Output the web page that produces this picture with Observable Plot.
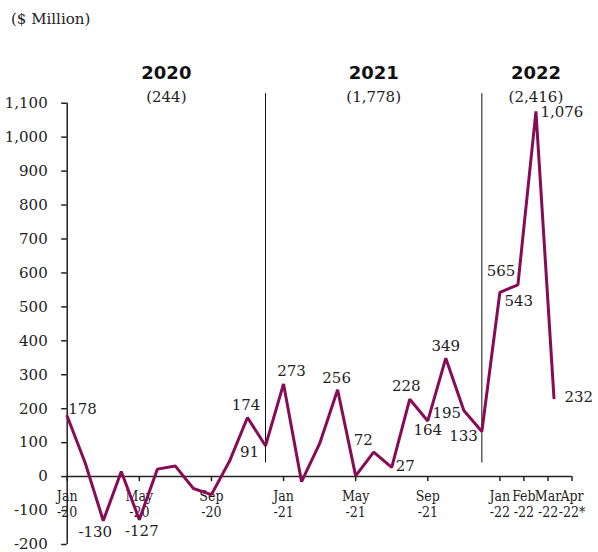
<!DOCTYPE html>
<html><head><meta charset="utf-8">
<script src="https://cdn.jsdelivr.net/npm/d3@7"></script>
<script src="https://cdn.jsdelivr.net/npm/@observablehq/plot@0.6"></script>
<style>
body{margin:0;background:#fff;}
#unit{height:30px;box-sizing:border-box;padding:9px 0 0 11px;font:15px "DejaVu Serif";line-height:20px;color:#222;}
#chart svg{display:block;}
</style></head><body>
<div id="unit">($ Million)</div>
<div id="chart"></div>
<script>
// Monthly values, Jan-20 .. Apr-22 ($ Million)
const months = ["Jan-20","Feb-20","Mar-20","Apr-20","May-20","Jun-20","Jul-20","Aug-20","Sep-20","Oct-20","Nov-20","Dec-20",
                "Jan-21","Feb-21","Mar-21","Apr-21","May-21","Jun-21","Jul-21","Aug-21","Sep-21","Oct-21","Nov-21","Dec-21",
                "Jan-22","Feb-22","Mar-22","Apr-22"];
const values = [178, 40, -130, 15, -127, 22, 31, -35, -53, 45, 174, 91,
                273, -15, 97, 256, 2, 72, 27, 228, 164, 349, 195, 133,
                543, 565, 1076, 232];
// which months carry a value label
const labeledMonths = ["Jan-20","Mar-20","May-20","Nov-20","Dec-20","Jan-21","Apr-21","Jun-21","Jul-21","Aug-21",
                       "Sep-21","Oct-21","Nov-21","Dec-21","Jan-22","Feb-22","Mar-22","Apr-22"];
// x-axis tick labels and their month positions
const tickLabels = ["Jan\n-20","May\n-20","Sep\n-20","Jan\n-21","May\n-21","Sep\n-21","Jan\n-22","Feb\n-22","Mar\n-22","Apr\n-22*"];
const tickMonthPos = [0, 4, 8, 12, 16, 20, 24, 25.33, 26.67, 28];
// y-axis ticks
const yTicks = [-200, -100, 0, 100, 200, 300, 400, 500, 600, 700, 800, 900, 1000, 1100];
// year headers
const years = ["2020", "2021", "2022"];
const yearTotals = ["(244)", "(1,778)", "(2,416)"];
const yearSpans = [[0, 11], [11, 23], [24, 28]];
const separators = ["Dec-20", "Dec-21"];

const data = months.map((m, i) => ({month: m, i, value: values[i]}));
const fmt = d3.formatLocale({decimal: ".", thousands: ",", grouping: [3], currency: ["$", ""], minus: "-"}).format(",");

// label placement (style only): [textAnchor, dx, dy]
const place = {
  "Jan-20": ["start", 1, -7], "Mar-20": ["middle", -8, 11], "May-20": ["middle", 2.5, 11.5],
  "Nov-20": ["middle", -1.5, -12], "Dec-20": ["end", -6.5, 6.5], "Jan-21": ["middle", 8, -12.3],
  "Apr-21": ["middle", -1, -11.5], "Jun-21": ["middle", -10.5, -12.2], "Jul-21": ["start", 4, -1],
  "Aug-21": ["middle", -3.5, -12.6], "Sep-21": ["middle", 0, 9.7], "Oct-21": ["middle", 0, -12],
  "Nov-21": ["end", -2.7, 3], "Dec-21": ["end", -4, 5], "Jan-22": ["start", 4.6, 8.8],
  "Feb-22": ["end", -2.5, -14], "Mar-22": ["start", 4.5, 1.3], "Apr-22": ["start", 10.5, -1]
};

const H = 522, MT = 72.7, MB = 8;
const pxPerUnit = (H - MT - MB) / (1100 - (-200));
const tickLen = 5 / pxPerUnit;
const lineColor = "#880B55";

const labelMarks = labeledMonths.map(m => {
  const [anchor, dx, dy] = place[m];
  return Plot.text(data.filter(d => d.month === m), {
    x: "i", y: "value", text: d => fmt(d.value),
    textAnchor: anchor, dx, dy, fontSize: 15, fill: "#222"
  });
});

const sepIdx = separators.map(s => months.indexOf(s));
const yearData = years.map((y, k) => ({year: y, total: yearTotals[k], mid: (yearSpans[k][0] + yearSpans[k][1]) / 2}));

const chart = Plot.plot({
  width: 598, height: H,
  marginLeft: 66.7, marginRight: 26.5, marginTop: MT, marginBottom: MB,
  style: {fontFamily: "DejaVu Serif", fontSize: "15px", color: "#222", background: "#fff"},
  x: {domain: [0, 28], axis: null},
  y: {domain: [-200, 1100], axis: null},
  marks: [
    Plot.axisY({ticks: yTicks, tickFormat: fmt, label: null, tickSize: 5.5, tickPadding: 14, fontSize: 15, strokeWidth: 1.5, stroke: "#222"}),
    Plot.ruleX([0], {y1: -200, y2: 1100, stroke: "#222", strokeWidth: 1.5}),
    Plot.ruleY([0], {x1: 0, x2: 28, stroke: "#222", strokeWidth: 1.5}),
    Plot.ruleX(tickMonthPos, {x: d => d, y1: 0, y2: -tickLen, stroke: "#222", strokeWidth: 1.5}),
    Plot.text(tickMonthPos, {x: d => d, y: 0, text: (d, i) => tickLabels[i], lineAnchor: "top", dy: 12.5, lineHeight: 1.18,
      fontSize: 14, fontFamily: "'DejaVu Serif Condensed', 'DejaVu Serif'", fontStretch: "condensed", fill: "#222"}),
    Plot.ruleX(sepIdx, {x: d => d, y1: 40, y2: 1128, stroke: "#111", strokeWidth: 1}),
    Plot.line(data, {x: "i", y: "value", stroke: lineColor, strokeWidth: 3, strokeLinejoin: "miter"}),
    ...labelMarks,
    Plot.text(yearData, {x: "mid", text: "year", frameAnchor: "top", dy: -36.5, fontFamily: "DejaVu Sans", fontWeight: "bold", fontSize: 18, fill: "#111"}),
    Plot.text(yearData, {x: "mid", text: "total", frameAnchor: "top", dy: -12, fontSize: 15, fill: "#222"})
  ]
});
document.getElementById("chart").appendChild(chart);
</script>
</body></html>
